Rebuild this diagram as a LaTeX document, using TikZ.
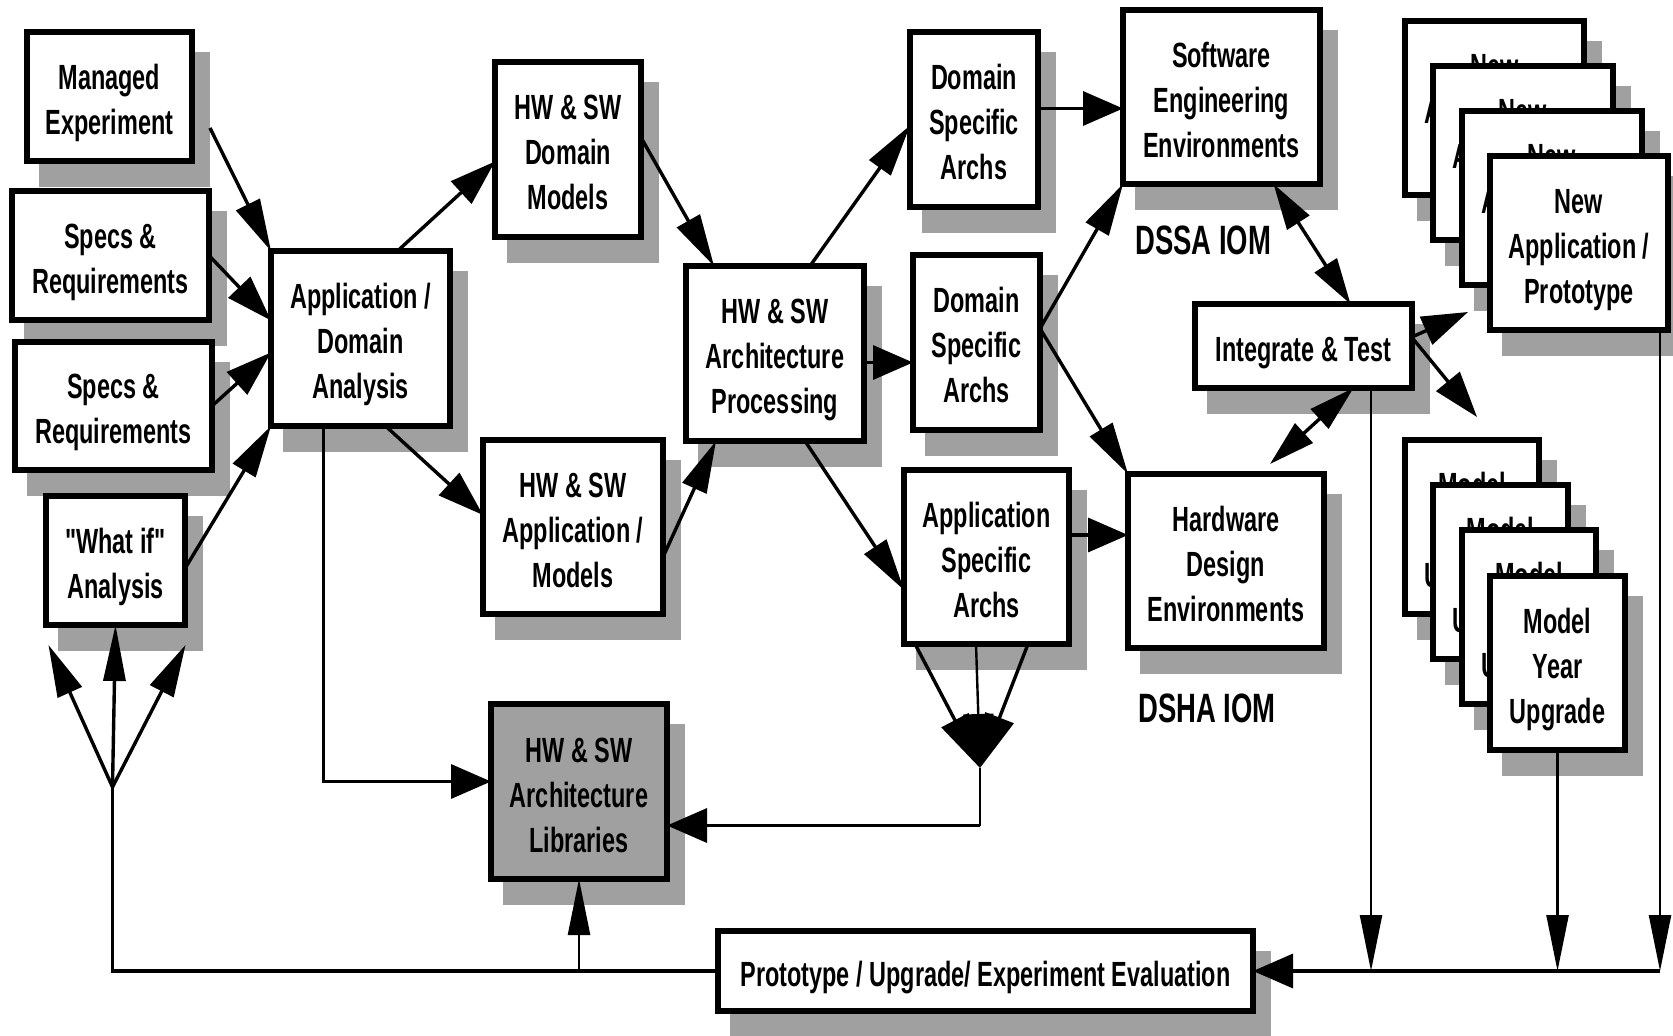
\documentclass[tikz,border=0pt]{standalone}
\usepackage{fontspec}
\setmainfont{Liberation Sans}[FakeStretch=0.67]
\newfontfamily\plainq{Liberation Sans}[FakeStretch=0.67]
\usetikzlibrary{arrows.meta,fit}
\definecolor{shadowc}{RGB}{160,160,160}
\newcommand\boxfont{\fontsize{17.5pt}{22.5pt}\selectfont\bfseries}
\newcommand\iomfont{\fontsize{20.5pt}{24pt}\selectfont\bfseries}
\newcommand\dq{{\plainq\bfseries"}}
% [opts]{name}{x1}{y1}{x2}{y2}{lines}{text}
\newcommand\dgbox[8][]{%
  \fill[shadowc] ({#3+15},{#4+23}) rectangle ({#5+15},{#6+23});
  \node[box,#1,fit={({#3+3},{#4+3}) ({#5-3},{#6-3})}] (#2) {};
  \node[boxtext,text height={(#7-1)*22.5pt+12.5pt},text depth=0pt] (#2-t) at (#2.center) {#8};}
\tikzset{
  box/.style={draw,line width=3pt,fill=white,inner sep=0pt,outer sep=0pt},
  boxtext/.style={inner sep=0pt,outer sep=0pt,align=center,font=\boxfont,yshift=-1.5pt},
  ln/.style={line width=1.7pt},
  lnthin/.style={line width=1.2pt},
  ah/.style={-{Triangle[length=20pt,width=17pt]}},
  av/.style={-{Triangle[length=28pt,width=11pt]}},
  adS/.style={-{Triangle[length=26pt,width=13pt]}},
  adg/.style={-{Triangle[length=23pt,width=15pt]}},
  fan/.style={-{Triangle[length=27pt,width=15pt]}},
  dbl/.style={{Triangle[length=23pt,width=13pt]}-{Triangle[length=23pt,width=13pt]}},
  iom/.style={font=\iomfont,inner sep=0pt,anchor=base west},
}
\begin{document}
\begin{tikzpicture}[x=0.5pt,y=-0.5pt]
\useasboundingbox (0,0) rectangle (1673,1036);
% ---- boxes
\dgbox{me}{24}{29}{195}{164}{2}{Managed\\Experiment}
\dgbox{spa}{9}{188}{212}{323}{2}{Specs \&\\Requirements}
\dgbox{spb}{12}{339}{215}{473}{2}{Specs \&\\Requirements}
\dgbox{wi}{43}{493}{188}{628}{2}{\dq What if\dq\\Analysis}
\dgbox{ada}{268}{248}{453}{429}{3}{Application /\\Domain\\Analysis}
\dgbox{hwdm}{492}{59}{644}{240}{3}{HW \& SW\\Domain\\Models}
\dgbox{hwam}{480}{437}{666}{617}{3}{HW \& SW\\Application /\\Models}
\dgbox{hwap}{683}{263}{867}{444}{3}{HW \& SW\\Architecture\\Processing}
\dgbox[fill=shadowc]{asl}{488}{701}{670}{882}{3}{HW \& SW\\Architecture\\Libraries}
\dgbox{dsa}{907}{29}{1041}{210}{3}{Domain\\Specific\\Archs}
\dgbox{dsb}{910}{252}{1043}{433}{3}{Domain\\Specific\\Archs}
\dgbox{asa}{901}{467}{1072}{647}{3}{Application\\Specific\\Archs}
\dgbox{see}{1120}{7}{1323}{187}{3}{Software\\Engineering\\Environments}
\dgbox{hde}{1125}{471}{1327}{651}{3}{Hardware\\Design\\Environments}
\dgbox{it}{1192}{301}{1415}{391}{1}{Integrate \& Test}
\dgbox{na1}{1402}{18}{1587}{198}{3}{New\\Application /\\Prototype}
\dgbox{na2}{1430}{63}{1616}{243}{3}{New\\Application /\\Prototype}
\dgbox{na3}{1459}{108}{1645}{288}{3}{New\\Application /\\Prototype}
\dgbox{na4}{1487}{153}{1671}{333}{3}{New\\Application /\\Prototype}
\dgbox{mo1}{1402}{437}{1542}{617}{3}{Model\\Year\\Upgrade}
\dgbox{mo2}{1430}{482}{1571}{662}{3}{Model\\Year\\Upgrade}
\dgbox{mo3}{1459}{527}{1599}{707}{3}{Model\\Year\\Upgrade}
\dgbox{mo4}{1487}{573}{1628}{753}{3}{Model\\Year\\Upgrade}
\dgbox{ev}{715}{928}{1256}{1014}{1}{Prototype / Upgrade/ Experiment Evaluation}
% ---- labels
\node[iom] (dssa) at (1135,255) {DSSA IOM};
\node[iom] (dsha) at (1138,722) {DSHA IOM};
% ---- inputs to analysis
\draw[ln,adS] ([shift={(18,-33)}]me.south east) -- (ada.north west);
\draw[ln,adg] (spa.east) -- ([shift={(0,-18)}]ada.west);
\draw[ln,adg] (spb.east) -- ([shift={(0,14)}]ada.west);
\draw[ln,adS] ([shift={(0,8)}]wi.east) -- (ada.south west);
% ---- analysis outputs
\draw[ln,adg] ([shift={(37,0)}]ada.north) -- ([shift={(0,12)}]hwdm.west);
\draw[ln,adg] ([shift={(25,0)}]ada.south) -- ([shift={(0,-12)}]hwam.west);
\draw[ln,ah] ([shift={(-37,0)}]ada.south) |- ([shift={(0,-10)}]asl.west);
% ---- models to processing
\draw[ln,adS] ([shift={(0,-12)}]hwdm.east) -- ([shift={(-61,0)}]hwap.north);
\draw[ln,adS] ([shift={(0,30)}]hwam.east) -- ([shift={(-59,0)}]hwap.south);
% ---- processing outputs
\draw[ln,adS] ([shift={(35,0)}]hwap.north) -- ([shift={(0,6)}]dsa.west);
\path ([shift={(0,9)}]hwap.east) coordinate (p1);
\draw[ln,ah] (p1) -- (p1 -| dsb.west);
\draw[ln,adS] ([shift={(30,0)}]hwap.south) -- ([shift={(0,33)}]asa.west);
% ---- archs to environments
\path ([shift={(0,-11)}]dsa.east) coordinate (p2);
\draw[ln,ah] (p2) -- (p2 -| see.west);
\path ([shift={(0,-14)}]dsb.east) coordinate (p3);
\draw[ln,adS] (p3) -- (see.south west);
\draw[ln,adS] (p3) -- (hde.north west);
\path ([shift={(0,-22)}]asa.east) coordinate (p4);
\draw[ln,ah] (p4) -- (p4 -| hde.west);
% ---- integrate & test
\draw[ln,dbl] ([shift={(52,0)}]see.south) -- ([shift={(47,0)}]it.north);
\draw[ln,dbl] ([shift={(50,0)}]it.south) -- ([shift={(44,-10)}]hde.north);
\draw[ln,adg] ([shift={(0,-9)}]it.east) -- ([shift={(-22,69)}]na4.west);
\draw[ln,adg] ([shift={(2,-6)}]it.east) -- ([shift={(5,-23)}]mo1.north);
% ---- down to evaluation
\path ([shift={(67.5,0)}]it.south) coordinate (q1);
\draw[lnthin,av] (q1) -- (q1 |- ev.east);
\draw[lnthin,av] (mo4.south) -- (mo4.south |- ev.east);
\path ([shift={(-8,0)}]na4.south east) coordinate (q3);
\draw[lnthin,av] (q3) -- (q3 |- ev.east);
\draw[ln,ah] (q3 |- ev.east) -- (ev.east);
% ---- evaluation feedback
\path ([shift={(-3,162)}]wi.south) coordinate (j);
\draw[ln] (ev.west) -| (j);
\draw[ln,av] (j) -- (wi.south);
\draw[ln,adS] (j) -- ([shift={(-67,20)}]wi.south);
\draw[ln,adS] (j) -- ([shift={(70,20)}]wi.south);
\draw[lnthin,av] (asl.south |- ev.west) -- (asl.south);
% ---- application specific archs fan to libraries
\path ([shift={(-6.5,124)}]asa.south) coordinate (f);
\draw[ln,fan] ([shift={(-71.5,0)}]asa.south) -- (f);
\draw[lnthin,fan] ([shift={(-10.5,0)}]asa.south) -- (f);
\draw[ln,fan] ([shift={(41.5,0)}]asa.south) -- (f);
\path ([shift={(0,34)}]asl.east) coordinate (g);
\draw[lnthin] (f) -- (f |- g);
\draw[ln,ah] (f |- g) -- (g);
\end{tikzpicture}
\end{document}
